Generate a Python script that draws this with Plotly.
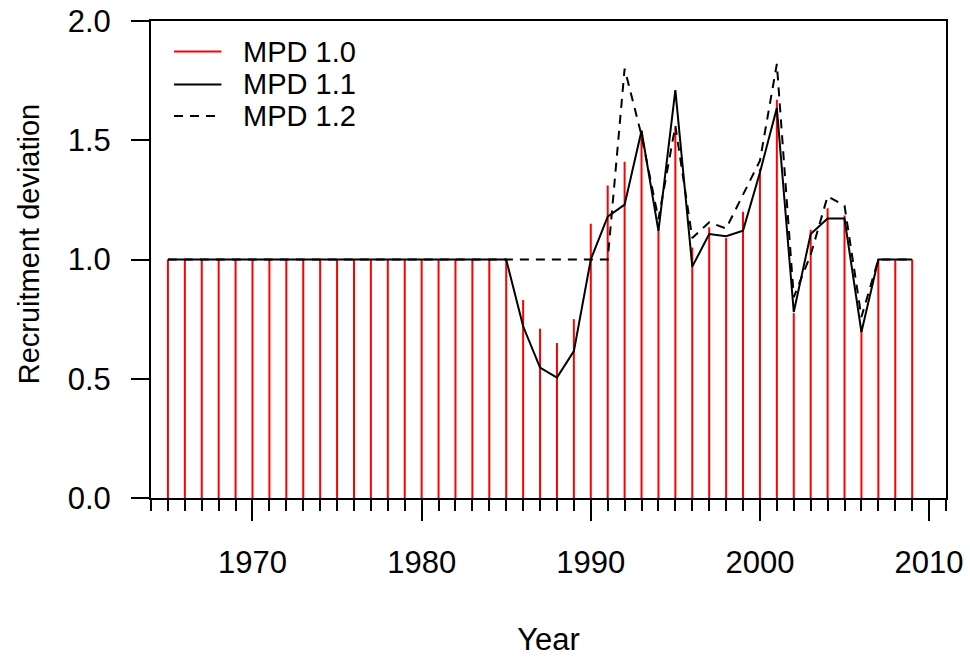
import plotly.graph_objects as go

# ---- data ----
years = list(range(1965, 2010))

mpd10 = [1.0] * 21 + [0.83, 0.71, 0.65, 0.75, 1.15, 1.31, 1.41, 1.54, 1.13, 1.55,
                      1.05, 1.135, 1.09, 1.20, 1.38, 1.67, 0.775, 1.125, 1.215, 1.185,
                      0.72, 1.0, 1.0, 1.0]

mpd11 = [1.0] * 21 + [0.72, 0.547, 0.505, 0.616, 1.0, 1.18, 1.23, 1.54, 1.12, 1.71,
                      0.97, 1.107, 1.098, 1.121, 1.365, 1.635, 0.78, 1.107, 1.172, 1.172,
                      0.696, 1.0, 1.0, 1.0]

mpd12 = [1.0] * 27 + [1.80, 1.52, 1.17, 1.56,
                      1.09, 1.156, 1.13, 1.27, 1.414, 1.82, 0.842, 1.02, 1.265, 1.226,
                      0.759, 1.0, 1.0, 1.0]

series_names = ["MPD 1.0", "MPD 1.1", "MPD 1.2"]
x_ticks = [1970, 1980, 1990, 2000, 2010]
y_ticks = [0.0, 0.5, 1.0, 1.5, 2.0]
x_title = "Year"
y_title = "Recruitment deviation"

FONT = "Liberation Sans, Arial, Helvetica, sans-serif"

# spikes (R type="h") built from the data
sx, sy = [], []
for yr, v in zip(years, mpd10):
    sx += [yr, yr, None]
    sy += [0, v, None]

fig = go.Figure()
fig.add_trace(go.Scatter(x=sx, y=sy, mode="lines", name=series_names[0],
                         line=dict(color="#FF0000", width=2), showlegend=False,
                         hoverinfo="skip"))
fig.add_trace(go.Scatter(x=years, y=mpd11, mode="lines", name=series_names[1],
                         line=dict(color="black", width=2), showlegend=False))
fig.add_trace(go.Scatter(x=years, y=mpd12, mode="lines", name=series_names[2],
                         line=dict(color="black", width=2, dash="9px,7px"),
                         showlegend=False))

# manual legend (R style, no box)
leg_rows = [0.936, 0.867, 0.801]
leg_styles = [dict(color="#FF0000", width=2),
              dict(color="black", width=2),
              dict(color="black", width=2, dash="9px,7px")]
shapes = []
annotations = []
for name, yy, st in zip(series_names, leg_rows, leg_styles):
    shapes.append(dict(type="line", xref="paper", yref="paper",
                       x0=0.029, x1=0.0886, y0=yy, y1=yy, line=st))
    annotations.append(dict(xref="paper", yref="paper", x=0.1128, y=yy,
                            xanchor="left", yanchor="middle", text=name,
                            showarrow=False, font=dict(size=29, color="black",
                                                       family=FONT)))

# y-axis title (R mtext position)
annotations.append(dict(xref="paper", yref="paper", x=-0.1538, y=0.5314,
                        xanchor="center", yanchor="middle", text=y_title,
                        textangle=-90, showarrow=False,
                        font=dict(size=29, color="black", family=FONT)))

fig.update_layout(
    width=970, height=657,
    margin=dict(l=151, r=24, t=21, b=159),
    paper_bgcolor="white", plot_bgcolor="white",
    font=dict(family=FONT, size=28, color="black"),
    shapes=shapes, annotations=annotations,
    xaxis=dict(
        range=[1964, 2011], tickmode="array", tickvals=x_ticks,
        ticks="outside", ticklen=21, tickwidth=1.5, tickcolor="black",
        showline=True, linecolor="black", linewidth=2, mirror=True,
        showgrid=False, zeroline=False, ticklabelstandoff=15,
        tickfont=dict(size=31, family=FONT),
        minor=dict(dtick=1, tick0=1964, ticks="outside", ticklen=11,
                   tickwidth=1.5, tickcolor="black", showgrid=False),
        title=dict(text=x_title, font=dict(size=31, family=FONT), standoff=49),
        automargin=False,
    ),
    yaxis=dict(
        range=[0, 2], tickmode="array", tickvals=y_ticks, tickformat=".1f",
        ticks="outside", ticklen=18, tickwidth=1.5, tickcolor="black",
        showline=True, linecolor="black", linewidth=2, mirror=True,
        showgrid=False, zeroline=False, ticklabelstandoff=14,
        tickfont=dict(size=31, family=FONT),
        automargin=False,
    ),
)

fig.write_html("out.html")
